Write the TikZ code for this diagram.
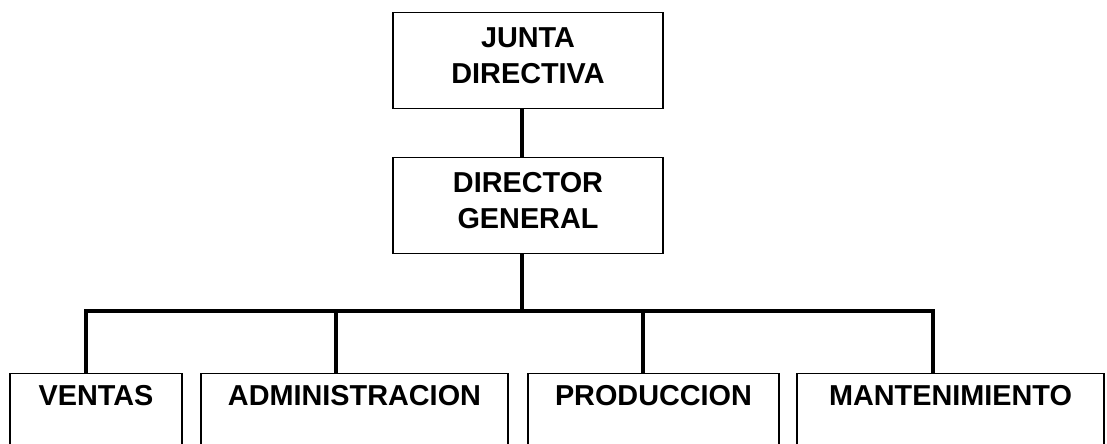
\documentclass[tikz,border=0pt]{standalone}
\usepackage{fontspec}
\setmainfont{Liberation Sans}
\begin{document}
\begin{tikzpicture}[x=0.025cm,y=-0.025cm,
  box/.style={draw=black, line width=0.9pt, inner xsep=0pt, inner ysep=0pt,
    align=center, font=\bfseries\fontsize{20.5}{25.5}\selectfont, anchor=north},
  topbox/.style={box, minimum width=6.75cm, text height=50.5pt, text depth=17.7pt},
  lowbox/.style={box, text height=22.7pt, text depth=50pt},
  conn/.style={draw=black, line width=2.4pt}]
\useasboundingbox (0,0) rectangle (1107,443);
\clip (0,0) rectangle (1107,443);
\node[topbox] (junta) at (528,12) {JUNTA\\DIRECTIVA};
\node[topbox] (dir) at (528,157) {DIRECTOR\\GENERAL};
\node[lowbox, minimum width=4.3cm] (ventas) at (96,373) {VENTAS};
\node[lowbox, minimum width=7.675cm] (admin) at (354.5,373) {ADMINISTRACION};
\node[lowbox, minimum width=6.275cm] (prod) at (653.5,373) {PRODUCCION};
\node[lowbox, minimum width=7.675cm] (mant) at (950.5,373) {MANTENIMIENTO};
\coordinate (spine) at (522,311);
\coordinate (b1) at (86,311);
\coordinate (b2) at (336,311);
\coordinate (b3) at (643,311);
\coordinate (b4) at (933,311);
\draw[conn] (junta.south -| spine) -- (dir.north -| spine);
\draw[conn] (dir.south -| spine) -- (spine);
\draw[conn, line cap=rect] (b1) -- (b4);
\draw[conn] (b1) -- (b1 |- ventas.north);
\draw[conn] (b2) -- (b2 |- admin.north);
\draw[conn] (b3) -- (b3 |- prod.north);
\draw[conn] (b4) -- (b4 |- mant.north);
\end{tikzpicture}
\end{document}
